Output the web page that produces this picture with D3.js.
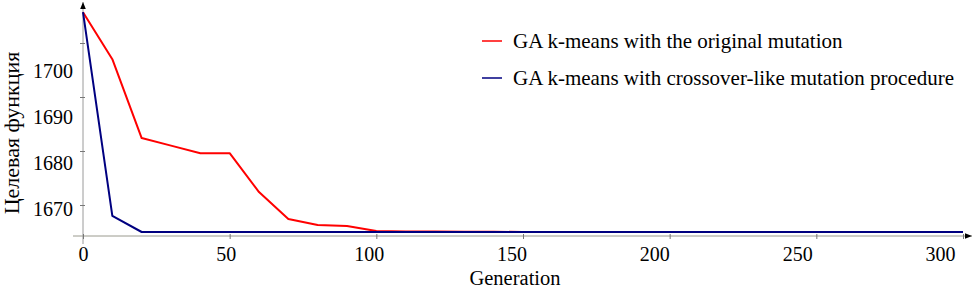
<!DOCTYPE html>
<html><head><meta charset="utf-8">
<script src="https://cdn.jsdelivr.net/npm/d3@7"></script>
<style>body{margin:0;background:#fff}svg{display:block}</style>
</head><body>
<svg id="c" width="974" height="288"></svg>
<script>
const generations = d3.range(0, 301, 10);
const redValues = [1705.7, 1697.0, 1682.4, 1681.0, 1679.6, 1679.6, 1672.4, 1667.4, 1666.3, 1666.1,
  1665.2, 1665.1, 1665.1, 1665.05, 1665.05, 1665.0, 1665.0, 1665.0, 1665.0, 1665.0,
  1665.0, 1665.0, 1665.0, 1665.0, 1665.0, 1665.0, 1665.0, 1665.0, 1665.0, 1665.0, 1665.0];
const blueValues = [1705.7, 1668.0, 1665.0, 1665.0, 1665.0, 1665.0, 1665.0, 1665.0, 1665.0, 1665.0,
  1665.0, 1665.0, 1665.0, 1665.0, 1665.0, 1665.0, 1665.0, 1665.0, 1665.0, 1665.0,
  1665.0, 1665.0, 1665.0, 1665.0, 1665.0, 1665.0, 1665.0, 1665.0, 1665.0, 1665.0, 1665.0];
const xTicks = [0, 50, 100, 150, 200, 250, 300];
const yTicks = [1670, 1680, 1690, 1700];
const seriesNames = ["GA k-means with the original mutation", "GA k-means with crossover-like mutation procedure"];
const seriesColors = ["#ff0000", "#000080"];
const xTitle = "Generation";
const yTitle = "Целевая функция";

const svg = d3.select("#c");
const FF = '"Liberation Serif"';

const x = d3.scaleLinear().domain([0, 300]).range([83, 963]);
const xLab = d3.scaleLinear().domain([0, 300]).range([83, 940]);
const y = d3.scaleLinear().domain([1670, 1700]).range([205, 43]);
const yLab = d3.scaleLinear().domain([1670, 1700]).range([208.5, 70.5]);
const axisY0 = 236, axisX0 = 83;

const defs = svg.append("defs");
defs.append("marker").attr("id", "arr").attr("viewBox", "0 0 10 10").attr("refX", 10).attr("refY", 5)
  .attr("markerWidth", 7).attr("markerHeight", 7).attr("markerUnits", "userSpaceOnUse").attr("orient", "auto")
  .append("path").attr("d", "M0,1L10,5L0,9Z").attr("fill", "#000");

// axis lines
svg.append("line").attr("x1", 73).attr("x2", 972).attr("y1", axisY0).attr("y2", axisY0)
  .attr("stroke", "#9a9a8e").attr("stroke-width", 1).attr("marker-end", "url(#arr)");
svg.append("line").attr("x1", axisX0).attr("x2", axisX0).attr("y1", 244).attr("y2", 2)
  .attr("stroke", "#9a9a9a").attr("stroke-width", 1).attr("marker-end", "url(#arr)");

// tick marks
const gxt = svg.append("g").attr("transform", `translate(0,${axisY0 - 2})`)
  .call(d3.axisBottom(x).tickValues(xTicks).tickFormat("").tickSize(5));
gxt.select(".domain").remove();
gxt.selectAll("line").attr("stroke", "#777");
const gyt = svg.append("g").attr("transform", `translate(${axisX0 + 2},0)`)
  .call(d3.axisLeft(y).tickValues(yTicks).tickFormat("").tickSize(5));
gyt.select(".domain").remove();
gyt.selectAll("line").attr("stroke", "#777");

// tick labels
const gxl = svg.append("g").attr("transform", `translate(0,${axisY0})`)
  .call(d3.axisBottom(xLab).tickValues(xTicks).tickFormat(d3.format("d")).tickSize(0).tickPadding(25));
gxl.select(".domain").remove();
gxl.selectAll("text").style("font-family", FF).style("font-size", "20px").attr("fill", "#000").attr("dy", 0);
const gyl = svg.append("g").attr("transform", `translate(73,0)`)
  .call(d3.axisLeft(yLab).tickValues(yTicks).tickFormat(d3.format("d")).tickSize(0).tickPadding(0));
gyl.select(".domain").remove();
gyl.selectAll("text").style("font-family", FF).style("font-size", "20px").attr("fill", "#000").attr("dy", "0.34em");

// titles
svg.append("text").attr("x", 515).attr("y", 285).attr("text-anchor", "middle")
  .style("font-family", FF).style("font-size", "20.5px").text(xTitle);
svg.append("text").attr("transform", "translate(19,133) rotate(-90)").attr("text-anchor", "middle")
  .style("font-family", FF).style("font-size", "22px").text(yTitle);

// lines
const line = d3.line().x((d, i) => x(generations[i])).y(d => y(d));
[redValues, blueValues].forEach((vals, k) => {
  svg.append("path").datum(vals).attr("d", line).attr("fill", "none")
    .attr("stroke", seriesColors[k]).attr("stroke-width", 2).attr("stroke-linejoin", "round");
});

// legend
const legY = [41, 78];
seriesNames.forEach((n, k) => {
  svg.append("line").attr("x1", 482).attr("x2", 502).attr("y1", legY[k]).attr("y2", legY[k])
    .attr("stroke", seriesColors[k]).attr("stroke-width", 1.5);
  svg.append("text").attr("x", 513).attr("y", legY[k] + 7).style("font-family", FF)
    .style("font-size", "21px").text(n);
});
</script>
</body></html>
